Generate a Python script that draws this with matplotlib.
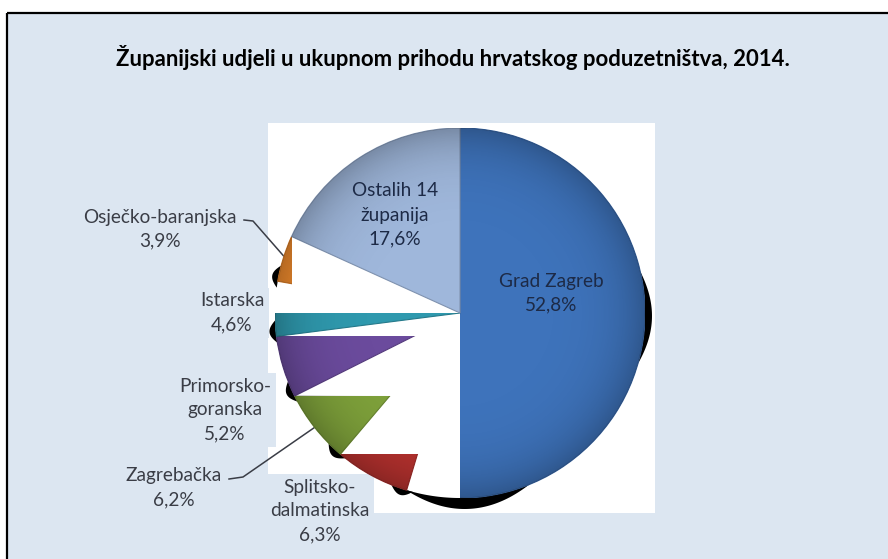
import numpy as np
import matplotlib.pyplot as plt
from matplotlib.patches import Rectangle, Polygon
from matplotlib.colors import to_rgb

plt.rcParams['font.family'] = ['Lato', 'DejaVu Sans']

# county shares of total business revenue, 2014 (%)
names = ["Grad Zagreb", "Splitsko-dalmatinska", "Zagrebačka", "Primorsko-goranska",
         "Istarska", "Osječko-baranjska", "Ostalih 14 županija"]
name_lines = ["Grad Zagreb", "Splitsko-\ndalmatinska", "Zagrebačka", "Primorsko-\ngoranska",
              "Istarska", "Osječko-baranjska", "Ostalih 14\nžupanija"]
shares = [52.8, 6.3, 6.2, 5.2, 4.6, 3.9, 17.6]
colors = ['#3e73bb', '#b8322f', '#7fa23b', '#6b4b9d', '#2f99ae', '#f08b2d', '#9fb7db']

title = "Županijski udjeli u ukupnom prihodu hrvatskog poduzetništva, 2014."

W, H = 888, 559
BG = '#dce6f1'
CX, CY, R = 460, 313, 185          # pie centre and radius in pixels

# label centres (pixels) and whether the label sits inside the pie
label_xy = [(551, 293), (320, 511), (174, 488), (225, 410), (232, 313), (160, 229), (395, 215)]
inside = [True, False, False, False, False, False, True]


def crescent(ax, a0, a1, depth):
    # thin black shadow just outside the rim
    t = np.linspace(0, 1, 80)
    th = np.radians(a0 + (a1 - a0) * t)
    r_out = 1 + depth * np.sin(np.pi * t)
    outer = np.column_stack([r_out * np.cos(th), r_out * np.sin(th)])
    inner = np.column_stack([np.cos(th[::-1]), np.sin(th[::-1])])
    ax.add_patch(Polygon(np.vstack([outer, inner]), closed=True,
                         facecolor='black', edgecolor='none', zorder=0.5))


def rim_shade(x0, x1, y0, y1, n=300):
    # darkening towards the rim, black with rising alpha
    xs = np.linspace(x0, x1, n)
    ys = np.linspace(y0, y1, n)
    xx, yy = np.meshgrid(xs, ys)
    rr = np.hypot(xx, yy)
    img = np.zeros((n, n, 4))
    img[..., 3] = np.clip(0.24 * rr ** 6, 0, 0.24)
    return img


def darker(c, f=0.7):
    return tuple(v * f for v in to_rgb(c))


def to_px(theta_deg, r):
    th = np.radians(theta_deg)
    return CX + R * r * np.cos(th), CY - R * r * np.sin(th)


fig = plt.figure(figsize=(W / 100, H / 100), dpi=100)

# background layer in pixel coordinates
bg = fig.add_axes([0, 0, 1, 1])
bg.set_xlim(0, W)
bg.set_ylim(H, 0)
bg.axis('off')
bg.add_patch(Rectangle((7, 13), W, H, facecolor=BG, edgecolor='none', zorder=0))
bg.plot([7, 7], [H, 13], color='black', lw=1.6, zorder=2, solid_capstyle='butt')
bg.plot([7, W], [13, 13], color='black', lw=1.6, zorder=2, solid_capstyle='butt')
bg.add_patch(Rectangle((268, 123), 655 - 268, 513 - 123, facecolor='white', edgecolor='none', zorder=1))

bg.text(453, 58, title, ha='center', va='center', fontsize=15.9, fontweight='bold', color='black')

# pie layer
half = 215
pax = fig.add_axes([(CX - half) / W, (H - CY - half) / H, 2 * half / W, 2 * half / H])
wedges, _ = pax.pie(shares, colors=colors, startangle=90, counterclock=False, radius=1,
                    wedgeprops=dict(linewidth=0))

mid_angles = []
for name, w, c in zip(names, wedges, colors):
    t1, t2 = w.theta1, w.theta2
    mid_angles.append((t1 + t2) / 2)
    s1, s2 = np.sin(np.radians(t1)), np.sin(np.radians(t2))
    top = t1 if s1 >= s2 else t2          # end of the arc that sits higher
    box = (-1, 1, -1, 1)
    if name == "Grad Zagreb":
        box = (0, 1, -1, 1)
    elif name == "Osječko-baranjska":
        box = (-1, np.cos(np.radians(top)), -1, 1)
    elif name != "Ostalih 14 županija":
        box = (-1, 1, -1, min(np.sin(np.radians(top)), 0))
    clip = Rectangle((box[0], box[2]), box[1] - box[0], box[3] - box[2])
    clip.set_transform(pax.transData)
    w.set_clip_on(True)
    w.set_clip_path(clip)
    w.set_edgecolor(darker(c, 0.8))
    w.set_linewidth(0.8)

    im = pax.imshow(rim_shade(*box), extent=box, origin='lower', zorder=1.2,
                    interpolation='bilinear')
    im.set_clip_path(w)

    if name not in ("Grad Zagreb", "Ostalih 14 županija"):
        crescent(pax, t2 - 5, t2 + 2, 0.035)

crescent(pax, -16, 13, 0.038)
crescent(pax, -107, -68, 0.06)

lim = half / R
pax.set_xlim(-lim, lim)
pax.set_ylim(-lim, lim)
pax.set_aspect('equal')
pax.axis('off')

# labels
for i, (txt, v) in enumerate(zip(name_lines, shares)):
    s = txt + "\n" + f"{v:.1f}".replace('.', ',') + "%"
    x, y = label_xy[i]
    if inside[i]:
        px_, py_ = (x - CX) / R, (CY - y) / R
        pax.text(px_, py_, s, ha='center', va='center', fontsize=13.7, color='#1d2a46',
                 linespacing=1.5, zorder=5)
    else:
        bg.text(x, y, s, ha='center', va='center', fontsize=13.7, color='#3a3d46',
                linespacing=1.5, zorder=5,
                bbox=dict(boxstyle='square,pad=0.25', facecolor=BG, edgecolor='none'))

# leader lines for the two labels set away from their slices
ax_o, ay_o = to_px(mid_angles[5], 0.98)
bg.plot([244, 253, ax_o], [220, 221, ay_o], color='#3a3d46', lw=1.1, zorder=6)
ax_z, ay_z = to_px(mid_angles[2], 1.0)
bg.plot([229, 243, ax_z], [479, 477, ay_z], color='#3a3d46', lw=1.1, zorder=6)

fig.savefig('out.png', dpi=100)
